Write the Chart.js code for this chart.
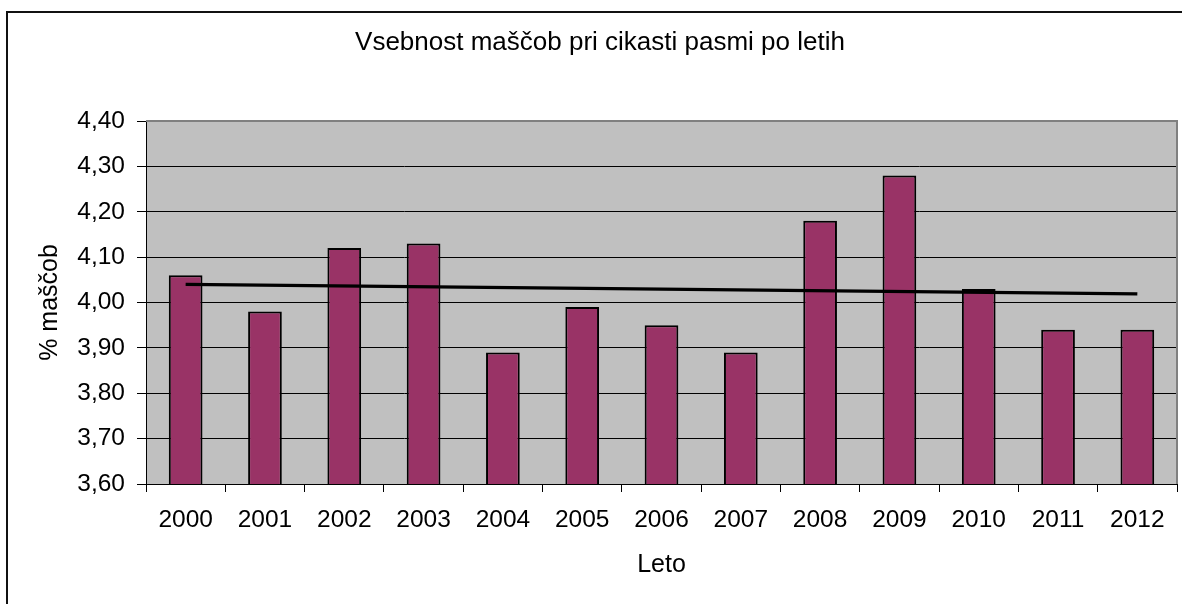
<!DOCTYPE html>
<html>
<head>
<meta charset="utf-8">
<script src="https://cdn.jsdelivr.net/npm/chart.js@4.4.1/dist/chart.umd.min.js"></script>
<style>
  html, body { margin: 0; padding: 0; background: #ffffff; }
  #wrap { width: 1182px; height: 604px; position: relative; }
</style>
</head>
<body>
<div id="wrap"><canvas id="c" width="1182" height="604"></canvas></div>
<script>
// ---- data ----
const years = ['2000', '2001', '2002', '2003', '2004', '2005', '2006', '2007', '2008', '2009', '2010', '2011', '2012'];
const fatValues = [4.06, 3.98, 4.12, 4.13, 3.89, 3.99, 3.95, 3.89, 4.18, 4.28, 4.03, 3.94, 3.94];
const trendYears = ['2000', '2012'];
const trendValues = [4.04, 4.019];
const yTickValues = [3.6, 3.7, 3.8, 3.9, 4.0, 4.1, 4.2, 4.3, 4.4];
const yTickLabels = ['3,60', '3,70', '3,80', '3,90', '4,00', '4,10', '4,20', '4,30', '4,40'];
const chartTitle = 'Vsebnost maščob pri cikasti pasmi po letih';
const xTitle = 'Leto';
const yTitle = '% maščob';

const FONT = "'Liberation Sans', Arial, sans-serif";

const framePlugin = {
  id: 'frame',
  beforeDraw(chart) {
    const ctx = chart.ctx;
    const a = chart.chartArea;
    ctx.save();
    ctx.fillStyle = '#ffffff';
    ctx.fillRect(0, 0, chart.width, chart.height);
    // outer chart border
    ctx.strokeStyle = '#111111';
    ctx.lineWidth = 2;
    ctx.strokeRect(7, 12, chart.width + 20, chart.height + 20);
    // plot area
    ctx.fillStyle = '#C0C0C0';
    ctx.fillRect(a.left, a.top, a.right - a.left, a.bottom - a.top);
    ctx.restore();
  },
  afterDatasetsDraw(chart) {
    const ctx = chart.ctx;
    const a = chart.chartArea;
    ctx.save();
    ctx.strokeStyle = '#808080';
    ctx.lineWidth = 2;
    ctx.beginPath();
    ctx.moveTo(a.left, a.top);
    ctx.lineTo(a.right, a.top);
    ctx.lineTo(a.right, a.bottom);
    ctx.stroke();
    ctx.restore();
  }
};

new Chart(document.getElementById('c'), {
  type: 'bar',
  data: {
    labels: years,
    datasets: [
      {
        type: 'line',
        label: 'Trend',
        data: trendYears.map((y, i) => ({ x: y, y: trendValues[i] })),
        borderColor: '#000000',
        borderWidth: 3.2,
        pointRadius: 0,
        fill: false,
        order: 0
      },
      {
        type: 'bar',
        label: 'Vsebnost maščob',
        data: fatValues,
        backgroundColor: '#993366',
        borderColor: '#000000',
        borderWidth: 2,
        borderSkipped: 'start',
        barPercentage: 0.425,
        categoryPercentage: 1.0,
        order: 1
      }
    ]
  },
  options: {
    responsive: false,
    animation: false,
    devicePixelRatio: 1,
    layout: { padding: { left: 23, right: 5, top: 0, bottom: 0 } },
    plugins: {
      legend: { display: false },
      tooltip: { enabled: false },
      title: {
        display: true,
        text: chartTitle,
        color: '#000000',
        font: { family: FONT, size: 26, weight: 'normal' },
        padding: { top: 27.4, bottom: 62.4 }
      }
    },
    scales: {
      x: {
        type: 'category',
        offset: true,
        grid: {
          offset: true,
          drawOnChartArea: false,
          drawTicks: true,
          tickLength: 8,
          tickColor: '#000000',
          color: '#000000'
        },
        border: { display: true, color: '#000000', width: 1 },
        ticks: {
          color: '#000000',
          font: { family: FONT, size: 24.5 },
          padding: 14,
          maxRotation: 0,
          autoSkip: false
        },
        title: {
          display: true,
          text: xTitle,
          color: '#000000',
          font: { family: FONT, size: 25 },
          padding: { top: 0, bottom: 24 }
        },
        afterFit(scale) { scale.height = 120; }
      },
      y: {
        type: 'linear',
        min: 3.6,
        max: 4.4,
        afterBuildTicks(scale) {
          scale.ticks = yTickValues.map(v => ({ value: v }));
        },
        grid: {
          color: (ctx) => (ctx.index === yTickValues.length - 1 ? '#808080' : '#000000'),
          lineWidth: 1,
          drawTicks: true,
          tickLength: 9,
          tickColor: '#000000'
        },
        border: { display: true, color: '#000000', width: 1 },
        ticks: {
          color: '#000000',
          font: { family: FONT, size: 24.5 },
          padding: 12,
          callback: (value, index) => yTickLabels[index]
        },
        title: {
          display: true,
          text: yTitle,
          color: '#000000',
          font: { family: FONT, size: 25 },
          padding: { top: 12, bottom: 0 }
        },
        afterFit(scale) { scale.width = 123; }
      }
    }
  },
  plugins: [framePlugin]
});
</script>
</body>
</html>
